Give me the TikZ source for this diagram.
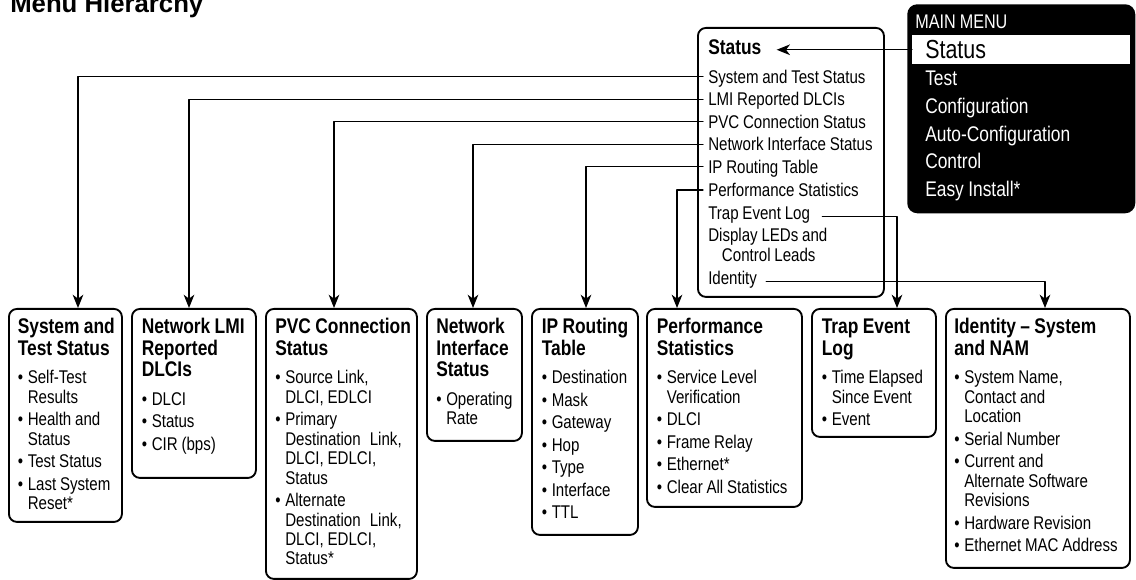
\documentclass[tikz,border=0pt]{standalone}
\usepackage{fontspec}
\setmainfont{Liberation Sans}[FakeStretch=0.82, WordSpace=0.9]
\newfontfamily\headfont{Liberation Sans}
\usepackage{tikz}
\usetikzlibrary{positioning}
\usetikzlibrary{arrows.meta}

\newcommand{\boxtitle}[1]{{\fontsize{15.9}{16.1}\selectfont\bfseries\spaceskip=0pt\xspaceskip=0pt #1\par}\vspace{4.4pt}}
\newcommand{\bitem}[1]{\par\vspace{2.25pt}\spaceskip=0pt\xspaceskip=0pt\hangindent=7.5pt\hangafter=1\noindent\makebox[7.5pt][l]{\textbullet}#1\par}

\tikzset{
  menubox/.style={draw, line width=1.4pt, rounded corners=6pt, anchor=north west, inner sep=0pt},
  boxtext/.style={anchor=base west, inner sep=0pt, text width=#1, font=\fontsize{13.8}{14.6}\selectfont},
  stitem/.style={anchor=base west, inner xsep=3.75pt, inner ysep=0pt, text height=9.6pt, text depth=0pt, font=\fontsize{13.8}{14.6}\selectfont},
  mmitem/.style={anchor=base west, inner sep=0pt, text=white, font=\fontsize{15.9}{16}\selectfont},
  conn/.style={line width=0.9pt, -{Stealth[length=10pt, width=8pt, inset=3pt]}},
}

\begin{document}
\begin{tikzpicture}[x=0.75pt, y=-0.75pt, line cap=round, line join=round]
            \useasboundingbox (0,0) rectangle (1136,580);

            % heading
            \node[anchor=base west, inner sep=0pt, font=\headfont\bfseries\fontsize{19.3}{22}\selectfont] (title) at (10,13) {Menu Hierarchy};

            % main menu (black panel)
            \node[fill=black, rounded corners=7.5pt, anchor=north west, minimum width=171pt, minimum height=156.75pt] (mainmenu) at (907,4) {};
            \node[mmitem, font=\fontsize{14.8}{16}\selectfont] (mmtitle) at (915,28.3) {MAIN MENU};
            \node[fill=white, anchor=north west, text width=144pt, inner xsep=9.75pt, inner ysep=0pt, minimum height=21.75pt, font=\fontsize{19.6}{20}\selectfont] (mmstatus) at (912,35) {Status};
            \foreach \txt [count=\i] in {Test, Configuration, Auto-Configuration, Control, Easy Install*}
                \node[mmitem] (mm\i) at (925,{58+27.7*\i}) {\txt};

            % status menu
            \node[menubox, minimum width=139.5pt, minimum height=201.75pt] (statusbox) at (697,27) {};
            \node[anchor=base west, inner sep=0pt, font=\fontsize{15.9}{16}\selectfont\bfseries] (sttitle) at (708,54.3) {Status};
            \node[stitem] (stsys)   at (703,83.3)  {System and Test Status};
            \node[stitem] (stlmi)   at (703,106)   {LMI Reported DLCIs};
            \node[stitem] (stpvc)   at (703,128.3) {PVC Connection Status};
            \node[stitem] (stnet)   at (703,151)   {Network Interface Status};
            \node[stitem] (stip)    at (703,173.3) {IP Routing Table};
            \node[stitem] (stperf)  at (703,196.5) {Performance Statistics};
            \node[stitem] (sttrap)  at (703,219.5) {Trap Event Log};
            \node[stitem] (stleds)  at (703,241.7) {Display LEDs and};
            \node[stitem] (stleds2) at (716.7,261.7) {Control Leads};
            \node[stitem] (stid)    at (703,284.3) {Identity};

            % main menu -> status
            \draw[conn] (mmstatus.west) -- ([xshift=11.25pt]sttitle.east |- mmstatus.west);

            % submenu boxes
            \node[menubox, minimum width=84.75pt,  minimum height=159.75pt] (sysbox)  at (8,308)   {};
            \node[menubox, minimum width=93pt,     minimum height=126.75pt] (lmibox)  at (131,308) {};
            \node[menubox, minimum width=113.25pt, minimum height=202.5pt]  (pvcbox)  at (265,308) {};
            \node[menubox, minimum width=71.25pt,  minimum height=99pt]     (netbox)  at (426,308) {};
            \node[menubox, minimum width=79.5pt,   minimum height=169.5pt]  (ipbox)   at (531,308) {};
            \node[menubox, minimum width=116.25pt, minimum height=148.5pt]  (perfbox) at (646,308) {};
            \node[menubox, minimum width=93pt,     minimum height=96pt]     (trapbox) at (811,308) {};
            \node[menubox, minimum width=138pt,    minimum height=194.25pt] (idbox)   at (945,308) {};

            % submenu contents
            \node[boxtext=85pt] (systext) at ([shift={(9.5,26)}]sysbox.north west)
                {\boxtitle{System and\newline Test Status}\bitem{Self-Test\newline Results}\bitem{Health and\newline Status}\bitem{Test Status}\bitem{Last System\newline Reset*}};
            \node[boxtext=93pt] (lmitext) at ([shift={(10.5,26)}]lmibox.north west)
                {\boxtitle{Network LMI\newline Reported\newline DLCIs}\bitem{DLCI}\bitem{Status}\bitem{CIR (bps)}};
            \node[boxtext=113pt] (pvctext) at ([shift={(10,26)}]pvcbox.north west)
                {\boxtitle{PVC Connection\newline Status}\bitem{Source Link,\newline DLCI, EDLCI}\bitem{Primary\newline Destination\hspace{4pt} Link,\newline DLCI, EDLCI,\newline Status}\bitem{Alternate\newline Destination\hspace{4pt} Link,\newline DLCI, EDLCI,\newline Status*}};
            \node[boxtext=71pt] (nettext) at ([shift={(10,26)}]netbox.north west)
                {\boxtitle{Network\newline Interface\newline Status}\bitem{Operating\newline Rate}};
            \node[boxtext=80pt] (iptext) at ([shift={(10.5,26)}]ipbox.north west)
                {\boxtitle{IP Routing\newline Table}\bitem{Destination}\bitem{Mask}\bitem{Gateway}\bitem{Hop}\bitem{Type}\bitem{Interface}\bitem{TTL}};
            \node[boxtext=116pt] (perftext) at ([shift={(10.5,26)}]perfbox.north west)
                {\boxtitle{Performance\newline Statistics}\bitem{Service Level\newline Verification}\bitem{DLCI}\bitem{Frame Relay}\bitem{Ethernet*}\bitem{Clear All Statistics}};
            \node[boxtext=93pt] (traptext) at ([shift={(10.5,26)}]trapbox.north west)
                {\boxtitle{Trap Event\newline Log}\bitem{Time Elapsed\newline Since Event}\bitem{Event}};
            \node[boxtext=138pt] (idtext) at ([shift={(9,26)}]idbox.north west)
                {\boxtitle{Identity -- System\newline and NAM}\bitem{System Name,\newline Contact and\newline Location}\bitem{Serial Number}\bitem{Current and\newline Alternate Software\newline Revisions}\bitem{Hardware Revision}\bitem{Ethernet MAC Address}};

            % status items -> submenus
            \draw[conn] (stsys.west)  -| ([shift={(70,0)}]sysbox.north west);
            \draw[conn] (stlmi.west)  -| ([shift={(58,0)}]lmibox.north west);
            \draw[conn] (stpvc.west)  -| ([shift={(69,0)}]pvcbox.north west);
            \draw[conn] (stnet.west)  -| ([shift={(47,0)}]netbox.north west);
            \draw[conn] (stip.west)   -| ([shift={(55,0)}]ipbox.north west);
            \draw[conn] (stperf.west) -| ([shift={(31,0)}]perfbox.north west);
            \draw[conn] ([shift={(7,3.4)}]sttrap.east) -| ([shift={(86,0)}]trapbox.north west);
            \draw[conn] ([shift={(4,4)}]stid.east) -| ([shift={(100,0)}]idbox.north west);
        \end{tikzpicture}
\end{document}
